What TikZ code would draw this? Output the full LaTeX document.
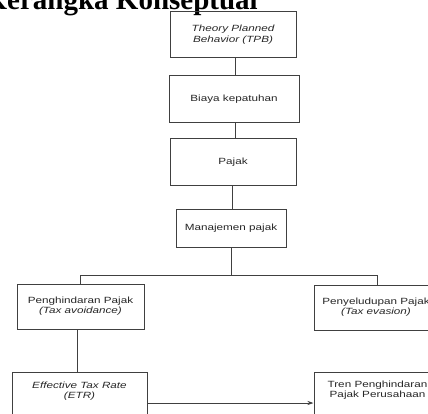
\documentclass[tikz,border=0pt]{standalone}
\usepackage{fontspec}
\setmainfont{Liberation Serif}
\newfontfamily\arialf{Liberation Sans}
\usepackage{graphicx}
\usetikzlibrary{arrows.meta}
\newcommand{\bxt}[1]{\scalebox{1.3}[1]{\begin{tabular}{@{}c@{}}#1\end{tabular}}}
\begin{document}
\begin{tikzpicture}[x=1pt,y=-1pt,
  box/.style={draw=black!75, line width=1pt, inner sep=0pt, align=center,
    font=\arialf\fontsize{9}{10.5}\selectfont, text=black!85},
  txt/.style={inner sep=0pt, align=center,
    font=\arialf\fontsize{9}{10}\selectfont, text=black!85},
  conn/.style={draw=black!75, line width=1pt}]
\useasboundingbox (0,0) rectangle (428,414);
\clip (0,0) rectangle (428,414);

\node[anchor=base east, inner sep=0pt, font=\fontsize{29}{30}\selectfont\bfseries] (title) at (258,10) {Kerangka Konseptual};

\node[box, minimum width=126pt, minimum height=46pt] (tpb) at (233,35)
  {\bxt{\itshape Theory Planned\\\itshape Behavior (TPB)}};
\node[box, minimum width=130pt, minimum height=47pt] (biaya) at (234,99.5)
  {\bxt{Biaya kepatuhan}};
\node[box, minimum width=126pt, minimum height=47pt] (pajak) at (233,162.5)
  {\bxt{Pajak}};
\node[box, minimum width=110pt, minimum height=38pt] (mp) at (231,228)
  {\bxt{Manajemen pajak}};
\node[box, minimum width=127pt, minimum height=45pt] (ph) at (80.5,306.5)
  {\bxt{Penghindaran Pajak\\\itshape (Tax avoidance)}};
\node[box, minimum width=124pt, minimum height=45pt] (ps) at (376,307.5)
  {\bxt{Penyeludupan Pajak\\\itshape (Tax evasion)}};
\node[box, minimum width=135pt, minimum height=46pt] (etr) at (79.5,395) {};
\node[txt] (etrt) at (79.5,391.5) {\bxt{\itshape Effective Tax Rate\\\itshape (ETR)}};
\node[box, minimum width=127pt, minimum height=46pt] (tren) at (377.5,395) {};
\node[txt] (trent) at (377.5,390.5) {\bxt{Tren Penghindaran\\Pajak Perusahaan}};

\coordinate (hj) at (231,275);
\coordinate (hl) at (80,275);
\coordinate (hr) at (377,275);

\draw[conn] ([xshift=2pt]tpb.south) -- ([xshift=2pt]tpb.south |- biaya.north);
\draw[conn] ([xshift=1pt]biaya.south) -- ([xshift=1pt]biaya.south |- pajak.north);
\draw[conn] ([xshift=-1pt]pajak.south) -- ([xshift=-1pt]pajak.south |- mp.north);
\draw[conn] (mp.south) -- (hj);
\draw[conn] (hl) -- (hr);
\draw[conn] (hl) -- (hl |- ph.north);
\draw[conn] (hr) -- (hr |- ps.north);
\draw[conn] ([xshift=-3.5pt]ph.south) -- ([xshift=-3.5pt]ph.south |- etr.north);
\draw[conn, -{Stealth[length=6pt,width=4pt]}] (etr.east |- 0,403) -- (tren.west |- 0,403);
\end{tikzpicture}
\end{document}
